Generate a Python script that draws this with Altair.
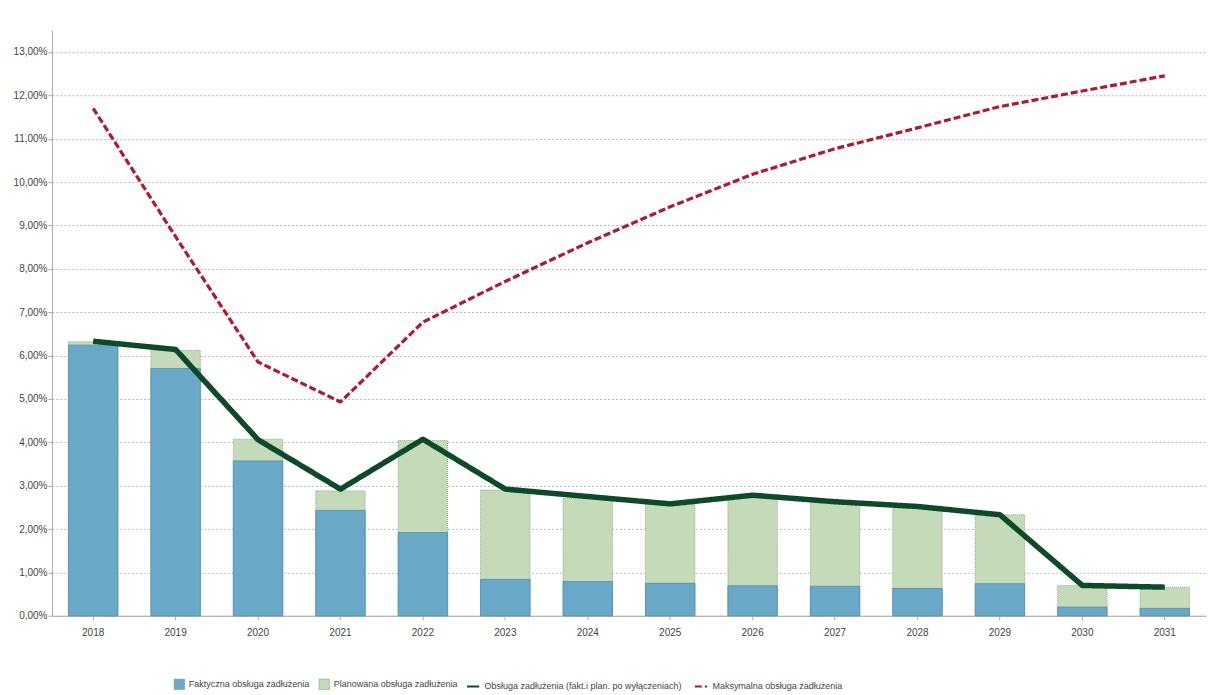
import altair as alt
import pandas as pd

years = [str(y) for y in range(2018, 2032)]
actual = [6.24, 5.70, 3.57, 2.43, 1.92, 0.84, 0.79, 0.75, 0.69, 0.68, 0.63, 0.74, 0.20, 0.17]
total_planned = [6.32, 6.12, 4.07, 2.88, 4.04, 2.90, 2.71, 2.58, 2.71, 2.62, 2.48, 2.33, 0.70, 0.66]
service_line = [6.33, 6.14, 4.06, 2.92, 4.07, 2.92, 2.75, 2.58, 2.78, 2.63, 2.52, 2.33, 0.70, 0.66]
max_service = [11.70, 8.74, 5.85, 4.93, 6.77, 7.71, 8.60, 9.43, 10.18, 10.77, 11.25, 11.74, 12.10, 12.45]

S_ACT = "Faktyczna obsługa zadłużenia"
S_PLAN = "Planowana obsługa zadłużenia"
S_LINE = "Obsługa zadłużenia (fakt.i plan. po wyłączeniach)"
S_MAX = "Maksymalna obsługa zadłużenia"

bars = pd.DataFrame(
    {"year": years * 2,
     "value": total_planned + actual,
     "series": [S_PLAN] * len(years) + [S_ACT] * len(years)}
)
lines = pd.DataFrame(
    {"year": years * 2,
     "value": service_line + max_service,
     "series": [S_LINE] * len(years) + [S_MAX] * len(years)}
)

FONT = "Liberation Sans"

xenc = alt.X(
    "year:N",
    title=None,
    scale=alt.Scale(paddingInner=0.4, paddingOuter=0.2),
    axis=alt.Axis(labelAngle=0, labelFontSize=10, labelColor="#444444",
                  labelPadding=8, tickSize=4, tickColor="#aaaaaa",
                  domainColor="#aaaaaa", grid=False, labelFont=FONT),
)

yvals = [i * 0.25 for i in range(0, 55)]
yscale = alt.Scale(domain=[0, 13.5], nice=False)
yaxis = alt.Axis(
    values=yvals,
    labelExpr="datum.value % 1 === 0 ? replace(format(datum.value, '.2f'), '.', ',') + '%' : ''",
    labelFontSize=10, labelColor="#444444", labelFont=FONT, labelPadding=1,
    tickSize=4, tickColor="#aaaaaa", domainColor="#aaaaaa",
    grid=True, gridColor="#b8b8b8", gridDash=[2, 2], gridWidth=1,
    gridOpacity=alt.ExprRef("datum.value % 1 === 0 ? 1 : 0"),
    title=None,
)

fill_scale = alt.Scale(domain=[S_ACT, S_PLAN], range=["#6aa8c8", "#c5dab9"])
fill_legend = alt.Legend(
    orient="none", legendX=122, legendY=649, direction="horizontal",
    title=None, symbolType="square", symbolSize=110, labelFontSize=9,
    labelFont=FONT, labelColor="#444444", columnPadding=8, labelLimit=400,
    symbolStrokeColor="#7a9a80", symbolStrokeWidth=0.5, labelOffset=4,
)

plan_bar = alt.Chart(bars).transform_filter(
    alt.datum.series == S_PLAN
).mark_bar(stroke="#7f9f7a", strokeWidth=0.8, strokeDash=[1, 1]).encode(
    x=xenc,
    y=alt.Y("value:Q", scale=yscale, axis=yaxis),
    fill=alt.Fill("series:N", scale=fill_scale, legend=fill_legend),
)

act_bar = alt.Chart(bars).transform_filter(
    alt.datum.series == S_ACT
).mark_bar(stroke="#4d8db3", strokeWidth=0.8).encode(
    x=xenc,
    y=alt.Y("value:Q", scale=yscale),
    fill=alt.Fill("series:N", scale=fill_scale, legend=fill_legend),
)

stroke_scale = alt.Scale(domain=[S_LINE, S_MAX], range=["#0c4a2a", "#b3182c"])
dash_scale = alt.Scale(domain=[S_LINE, S_MAX], range=[[1, 0], [7, 3]])
line_legend = alt.Legend(
    orient="none", legendX=414, legendY=649, direction="horizontal",
    title=None, symbolType="stroke", symbolSize=150, symbolStrokeWidth=2,
    labelFontSize=9, labelFont=FONT, labelColor="#444444", columnPadding=8,
    labelLimit=400, labelOffset=4,
)


def line_chart(series_name, width):
    return alt.Chart(lines).transform_filter(
        alt.datum.series == series_name
    ).mark_line(strokeJoin="round", strokeWidth=width).encode(
        x=xenc,
        y=alt.Y("value:Q", scale=yscale),
        stroke=alt.Stroke("series:N", scale=stroke_scale, legend=line_legend,
                          sort=[S_LINE, S_MAX]),
        strokeDash=alt.StrokeDash("series:N", scale=dash_scale, legend=line_legend,
                                  sort=[S_LINE, S_MAX]),
        order=alt.Order("year:N"),
    )


max_layer = line_chart(S_MAX, 3.2)
svc_layer = line_chart(S_LINE, 5.5)

chart = alt.layer(plan_bar, act_bar, max_layer, svc_layer).properties(
    width=1155,
    height=586,
    background="white",
    autosize=alt.AutoSizeParams(type="none"),
    padding={"left": 44, "top": 22, "right": 0, "bottom": 84},
).configure_view(stroke=None)

chart.save("out.html", embed_options={"renderer": "svg", "actions": False})
